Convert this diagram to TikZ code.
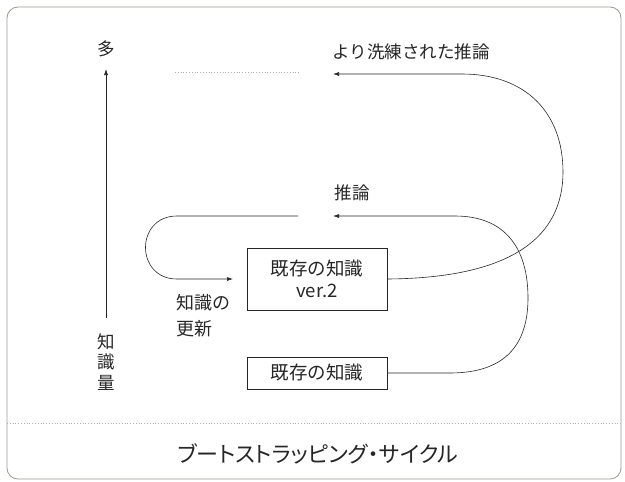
\documentclass[tikz,border=0pt]{standalone}
\usepackage{fontspec}
\setmainfont{Noto Sans CJK JP}
\newfontfamily\titlefont[RawFeature=+palt]{Noto Sans CJK JP}
\usetikzlibrary{arrows.meta}
\definecolor{ink}{HTML}{262626}
\definecolor{frame}{HTML}{9A9A90}
\definecolor{dots}{HTML}{B0B0B0}
\tikzset{
  lbl/.style={text=ink, font=\fontsize{17.5}{21}\selectfont, inner sep=0pt},
  kbox/.style={draw=ink, line width=0.7pt, text=ink, font=\fontsize{18.5}{22}\selectfont, align=center, inner sep=0pt, minimum width=140pt},
  flow/.style={draw=ink, line width=0.6pt, -{Latex[length=6pt,width=4pt]}},
  dotline/.style={draw=dots, line width=0.8pt, dotted}
}
\begin{document}
\begin{tikzpicture}[x=1pt,y=-1pt]
\useasboundingbox (0,0) rectangle (625,482);
% frame
\draw[frame, line width=0.8pt, rounded corners=11pt] (7,7) rectangle (621,479);
\draw[dotline] (7,423) -- (621,423);
\node[text=ink, font=\titlefont\fontsize{22}{26}\selectfont, inner sep=0pt] (title) at (318,454) {ブートストラッピング・サイクル};
% axis
\node[lbl] (many) at (106,49) {多};
\node[lbl, align=center, font=\fontsize{17.5}{20.5}\selectfont] (amount) at (106,362) {知\\識\\量};
\coordinate (axbot) at (106,318);
\coordinate (axtop) at (106,69);
\draw[flow] (axbot) -- (axtop);
\draw[dotline] (175,72) -- (300,72);
% boxes
\node[kbox, minimum height=62pt] (box2) at (317,279) {既存の知識\\ver.2};
\node[kbox, minimum height=32pt] (box1) at (317,373) {既存の知識};
% labels
\node[lbl] (refined) at (411,52) {より洗練された推論};
\node[lbl] (infer) at (352,193) {推論};
\node[lbl, anchor=west, align=left, font=\fontsize{18}{26}\selectfont] (update) at (176,316) {知識の\\更新};
% arrow tips
\coordinate (tipTop) at (333,74);
\coordinate (tipMid) at (333,216);
\coordinate (startU) at (298,216);
\coordinate (tipU) at (233,279);
% top curve
\draw[flow] (box2.east) .. controls (515,278) and (563,235) .. (563,172)
  .. controls (563,112) and (525,74) .. (462,74) -- (tipTop);
% middle curve
\draw[flow] (box1.east) -- (450,373) .. controls (505,373) and (528,345) .. (528,298)
  .. controls (528,248) and (505,216) .. (455,216) -- (tipMid);
% left U
\draw[flow] (startU) -- (177,216) .. controls (135,216) and (135,279) .. (177,279) -- (tipU);
\end{tikzpicture}
\end{document}
